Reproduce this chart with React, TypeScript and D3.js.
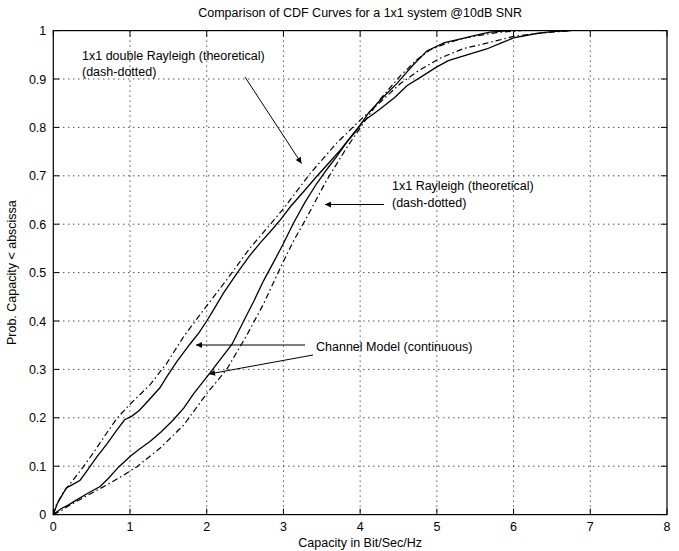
import React from "react";
import * as d3 from "d3";

const W = 679;
const H = 551;

const xTicks = [0, 1, 2, 3, 4, 5, 6, 7, 8];
const yTicks = [0, 0.1, 0.2, 0.3, 0.4, 0.5, 0.6, 0.7, 0.8, 0.9, 1];
const yTickLabels = ["0", "0.1", "0.2", "0.3", "0.4", "0.5", "0.6", "0.7", "0.8", "0.9", "1"];

// 1x1 double Rayleigh (theoretical), dash-dotted
const drTheory: [number, number][] = [
  [0, 0], [0.04, 0.02], [0.1, 0.038], [0.16, 0.052], [0.22, 0.064], [0.35, 0.09], [0.52, 0.127],
  [0.68, 0.165], [0.83, 0.199], [1.0, 0.228], [1.26, 0.268], [1.48, 0.313], [1.7, 0.368],
  [1.96, 0.423], [2.26, 0.485], [2.56, 0.55], [2.83, 0.6], [3.0, 0.632], [3.35, 0.705],
  [3.69, 0.767], [4.0, 0.815], [4.26, 0.852], [4.52, 0.89], [4.74, 0.915], [5.04, 0.943],
  [5.35, 0.963], [5.65, 0.974], [6.0, 0.988], [6.3, 0.994], [6.75, 1.0],
];

// Channel model, double Rayleigh case (continuous)
const drModel: [number, number][] = [
  [0, 0], [0.05, 0.022], [0.1, 0.036], [0.17, 0.055], [0.25, 0.062], [0.35, 0.071], [0.45, 0.093],
  [0.57, 0.12], [0.7, 0.146], [0.83, 0.175], [0.93, 0.196], [1.02, 0.203], [1.12, 0.215],
  [1.22, 0.232], [1.39, 0.262], [1.48, 0.285], [1.61, 0.316], [1.78, 0.352], [1.9, 0.376],
  [2.0, 0.4], [2.1, 0.426], [2.22, 0.458], [2.4, 0.5], [2.56, 0.535], [2.7, 0.562], [2.83, 0.585],
  [2.96, 0.609], [3.09, 0.636], [3.25, 0.665], [3.43, 0.698], [3.6, 0.728], [3.74, 0.753],
  [3.9, 0.785], [4.04, 0.813], [4.15, 0.825], [4.26, 0.838], [4.45, 0.862], [4.61, 0.886],
  [4.8, 0.905], [5.0, 0.925], [5.15, 0.938], [5.35, 0.948], [5.65, 0.962], [5.85, 0.975],
  [6.0, 0.985], [6.3, 0.994], [6.5, 0.998], [6.75, 1.0],
];

// Channel model, Rayleigh case (continuous)
const rModel: [number, number][] = [
  [0, 0], [0.1, 0.012], [0.2, 0.02], [0.3, 0.03], [0.45, 0.044], [0.61, 0.058], [0.72, 0.075],
  [0.85, 0.098], [1.0, 0.12], [1.12, 0.135], [1.26, 0.151], [1.4, 0.17], [1.56, 0.195],
  [1.7, 0.22], [1.83, 0.25], [2.02, 0.288], [2.15, 0.315], [2.33, 0.352], [2.52, 0.412],
  [2.62, 0.443], [2.74, 0.483], [2.9, 0.53], [3.0, 0.56], [3.13, 0.602], [3.28, 0.645],
  [3.43, 0.683], [3.56, 0.712], [3.69, 0.739], [3.82, 0.768], [3.96, 0.795], [4.1, 0.828],
  [4.26, 0.856], [4.48, 0.891], [4.69, 0.929], [4.87, 0.958], [5.1, 0.975], [5.34, 0.984],
  [5.5, 0.99], [5.69, 0.997], [5.95, 1.0],
];

// 1x1 Rayleigh (theoretical), dash-dotted
const rTheory: [number, number][] = [
  [0, 0], [0.1, 0.008], [0.22, 0.02], [0.45, 0.04], [0.74, 0.065], [0.9, 0.08], [1.09, 0.099],
  [1.39, 0.137], [1.7, 0.185], [2.0, 0.25], [2.26, 0.3], [2.52, 0.37], [2.74, 0.435],
  [2.96, 0.51], [3.13, 0.565], [3.28, 0.607], [3.56, 0.69], [3.82, 0.757], [4.04, 0.808],
  [4.26, 0.858], [4.52, 0.906], [4.74, 0.94], [4.91, 0.96], [5.1, 0.972], [5.34, 0.984],
  [5.78, 0.996], [6.1, 1.0],
];

const title = "Comparison of CDF Curves for a 1x1 system @10dB SNR";
const xLabel = "Capacity in Bit/Sec/Hz";
const yLabel = "Prob. Capacity < abscissa";

export default function App() {
  const left = 53.3, right = 667, top = 30.6, bottom = 514.6;
  const x = d3.scaleLinear().domain([0, 8]).range([left, right]);
  const y = d3.scaleLinear().domain([0, 1]).range([bottom, top]);
  const line = d3.line<[number, number]>().x((d) => x(d[0])).y((d) => y(d[1]));
  const font = "'Liberation Sans', Arial, Helvetica, sans-serif";
  const fs = 12.5;
  const tick = 6;
  const dashDot = "6,3,1.5,3";

  return (
    <div style={{ position: "absolute", left: 0, top: 0 }}>
      <svg width={W} height={H} style={{ display: "block", background: "#fff" }} fontFamily={font}>
        <defs>
          <marker id="ah" viewBox="0 0 10 10" refX="10" refY="5" markerWidth="11" markerHeight="6"
            markerUnits="userSpaceOnUse" orient="auto">
            <path d="M0,0 L10,5 L0,10 z" fill="#000" />
          </marker>
        </defs>
        <rect x={0} y={0} width={W} height={H} fill="#fff" />
        {/* grid */}
        {xTicks.slice(1, -1).map((t) => (
          <line key={"gx" + t} x1={x(t)} x2={x(t)} y1={top} y2={bottom} stroke="#000"
            strokeWidth={1} strokeDasharray="1,4" />
        ))}
        {yTicks.slice(1, -1).map((t) => (
          <line key={"gy" + t} x1={left} x2={right} y1={y(t)} y2={y(t)} stroke="#000"
            strokeWidth={1} strokeDasharray="1,4" />
        ))}
        {/* ticks */}
        {xTicks.map((t) => (
          <g key={"tx" + t}>
            <line x1={x(t)} x2={x(t)} y1={bottom} y2={bottom - tick} stroke="#000" />
            <line x1={x(t)} x2={x(t)} y1={top} y2={top + tick} stroke="#000" />
            <text x={x(t)} y={bottom + 16.5} fontSize={fs} textAnchor="middle">{t}</text>
          </g>
        ))}
        {yTicks.map((t, i) => (
          <g key={"ty" + t}>
            <line x1={left} x2={left + tick} y1={y(t)} y2={y(t)} stroke="#000" />
            <line x1={right} x2={right - tick} y1={y(t)} y2={y(t)} stroke="#000" />
            <text x={left - 7} y={y(t) + 4.5} fontSize={fs} textAnchor="end">{yTickLabels[i]}</text>
          </g>
        ))}
        {/* curves */}
        <path d={line(drTheory) || ""} fill="none" stroke="#000" strokeWidth={1.2} strokeDasharray={dashDot} />
        <path d={line(rTheory) || ""} fill="none" stroke="#000" strokeWidth={1.2} strokeDasharray={dashDot} />
        <path d={line(drModel) || ""} fill="none" stroke="#000" strokeWidth={1.3} />
        <path d={line(rModel) || ""} fill="none" stroke="#000" strokeWidth={1.3} />
        {/* frame */}
        <rect x={left} y={top} width={right - left} height={bottom - top} fill="none" stroke="#000" strokeWidth={1.2} />
        {/* title & labels */}
        <text x={(left + right) / 2} y={17} fontSize={fs} textAnchor="middle">{title}</text>
        <text x={(left + right) / 2} y={546.5} fontSize={fs} textAnchor="middle">{xLabel}</text>
        <text transform={`translate(16,${(top + bottom) / 2}) rotate(-90)`} fontSize={fs} textAnchor="middle">{yLabel}</text>
        {/* annotations */}
        <text x={82} y={60} fontSize={fs}>1x1 double Rayleigh (theoretical)</text>
        <text x={82} y={76} fontSize={fs}>(dash-dotted)</text>
        <line x1={245} y1={77} x2={301.5} y2={163.5} stroke="#000" strokeWidth={1} markerEnd="url(#ah)" />

        <text x={392} y={190} fontSize={fs}>1x1 Rayleigh (theoretical)</text>
        <text x={392} y={207} fontSize={fs}>(dash-dotted)</text>
        <line x1={384} y1={204.5} x2={325} y2={204.5} stroke="#000" strokeWidth={1} markerEnd="url(#ah)" />

        <text x={316} y={351} fontSize={fs}>Channel Model (continuous)</text>
        <line x1={305} y1={345} x2={196} y2={345} stroke="#000" strokeWidth={1} markerEnd="url(#ah)" />
        <line x1={313} y1={355} x2={209} y2={374} stroke="#000" strokeWidth={1} markerEnd="url(#ah)" />
      </svg>
    </div>
  );
}
